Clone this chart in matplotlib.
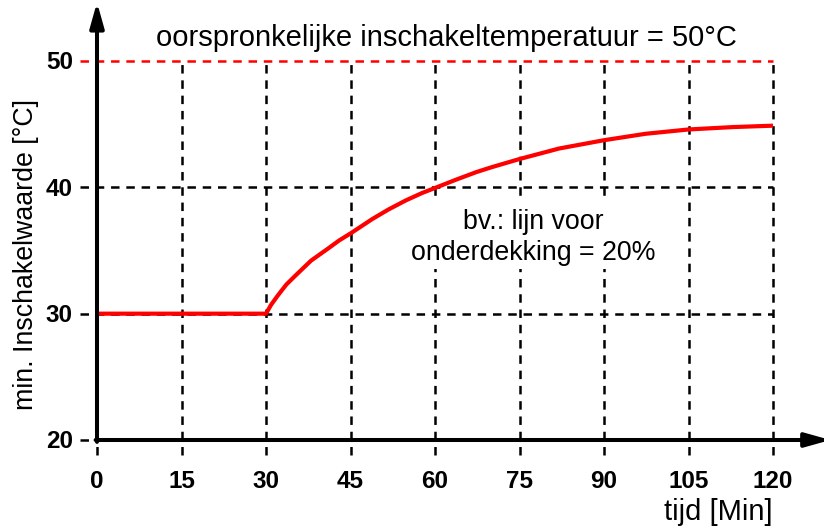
import matplotlib
matplotlib.use("Agg")
import matplotlib.pyplot as plt
from matplotlib.patches import Rectangle

# ---- data ----
x_ticks = [0, 15, 30, 45, 60, 75, 90, 105, 120]
y_ticks = [20, 30, 40, 50]
curve_x = [0, 30, 30.9, 32.1, 33.6, 35.1, 38.0, 41.0, 43.0, 45, 48.9, 51.8, 54.8,
           57.7, 60, 63.7, 67.3, 70.1, 75, 82, 90, 97.4, 105, 112.9, 120]
curve_y = [30, 30, 30.7, 31.44, 32.3, 32.96, 34.2, 35.15, 35.8, 36.35, 37.5, 38.26,
           38.96, 39.55, 39.95, 40.6, 41.2, 41.6, 42.24, 43.07, 43.73, 44.24, 44.58,
           44.77, 44.88]
orig_temp = 50
title_text = "oorspronkelijke inschakeltemperatuur = 50°C"
note_lines = ["bv.: lijn voor", "onderdekking = 20%"]
ylabel_text = "min. Inschakelwaarde [°C]"
xlabel_text = "tijd [Min]"

plt.rcParams['font.family'] = ['Liberation Sans', 'DejaVu Sans']
plt.rcParams['lines.scale_dashes'] = False

fig = plt.figure(figsize=(8.24, 5.26), dpi=100)
ax = fig.add_axes([97/824, 1 - 440/526, 676/824, 379/526])
ax.set_xlim(0, 120)
ax.set_ylim(20, 50)
for s in ax.spines.values():
    s.set_visible(False)
ax.set_xticks([])
ax.set_yticks([])

dash = (0, (6.1, 4.9))
lw_grid = 1.8
# vertical dashed grid lines (extend below axis as ticks)
for xv in x_ticks:
    ax.plot([xv, xv], [18.8, 50], color='black', lw=lw_grid, linestyle=dash,
            clip_on=False, zorder=2)
# horizontal dashed grid lines (extend left of axis as ticks)
for yv in y_ticks:
    col = 'red' if yv == orig_temp else 'black'
    ax.plot([-3.0, 120], [yv, yv], color=col, lw=lw_grid, linestyle=dash,
            clip_on=False, zorder=3 if yv == orig_temp else 2)

# white box behind the note text (hides grid lines there)
ax.add_patch(Rectangle((55.8, 33.5), 43.6, 5.5, facecolor='white',
                       edgecolor='none', zorder=2.5))

# curve
ax.plot(curve_x, curve_y, color='red', lw=3.0, zorder=4, solid_capstyle='butt',
        solid_joinstyle='round', clip_on=False)

# axes with arrows
arrow_style = '-|>,head_length=1.5,head_width=0.42'
ax.annotate('', xy=(0, 54.65), xytext=(0, 19.85), annotation_clip=False,
            arrowprops=dict(arrowstyle=arrow_style, lw=2.9, color='black',
                            shrinkA=0, shrinkB=0, mutation_scale=10), zorder=5)
ax.annotate('', xy=(130.2, 20), xytext=(-0.25, 20), annotation_clip=False,
            arrowprops=dict(arrowstyle=arrow_style, lw=2.9, color='black',
                            shrinkA=0, shrinkB=0, mutation_scale=10), zorder=5)

# tick labels
for xv in x_ticks:
    ax.text(xv, 16.2, str(xv), ha='center', va='baseline', fontsize=17.5,
            fontweight='bold', clip_on=False)
for yv in y_ticks:
    ax.text(-4.3, yv - 0.67, str(yv), ha='right', va='baseline', fontsize=17.5,
            fontweight='bold', clip_on=False)

# texts
ax.text(62.1, 51.83, title_text, ha='center', va='center', fontsize=21)
ax.text(77.4, 37.26, note_lines[0], ha='center', va='center', fontsize=19.3,
        zorder=6)
ax.text(77.4, 34.8, note_lines[1], ha='center', va='center', fontsize=19.3,
        zorder=6)
ax.text(120, 14.3, xlabel_text, ha='right', va='center', fontsize=21,
        clip_on=False)
fig.text(26/824, 1 - 255/526, ylabel_text, rotation=90, ha='center',
         va='center', fontsize=19.3)

fig.savefig('out.png', dpi=100)
